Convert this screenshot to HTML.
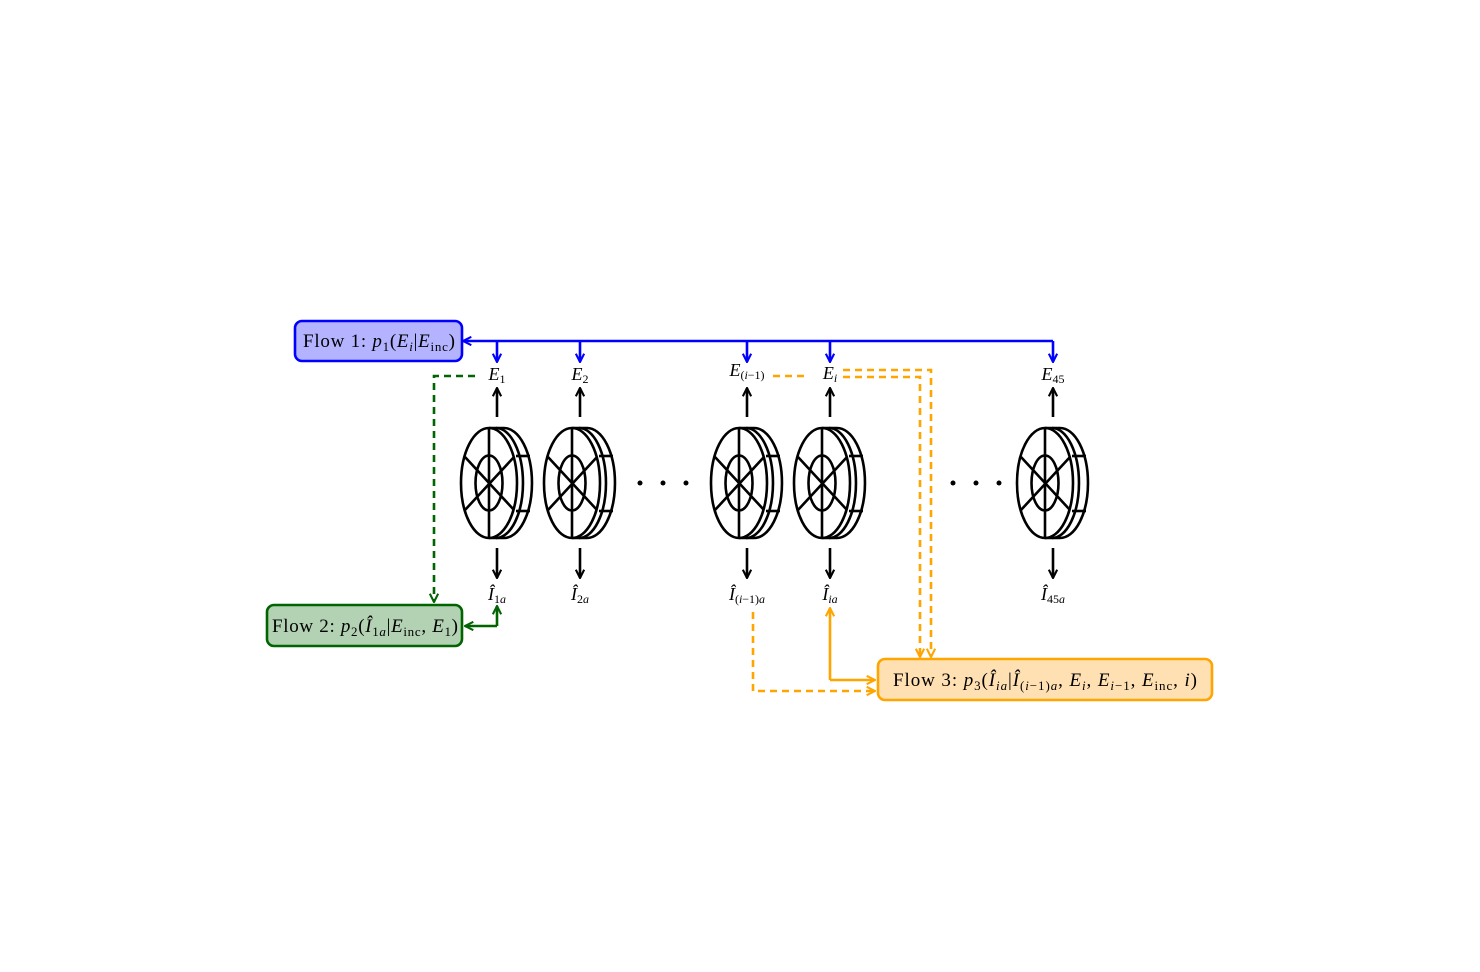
<!DOCTYPE html>
<html><head><meta charset="utf-8"><style>
body{margin:0;background:#fff}
svg text{font-family:"Liberation Serif",serif;}
</style></head><body>
<svg width="1480" height="967" viewBox="0 0 1480 967" xmlns="http://www.w3.org/2000/svg">
<defs>
<marker id="ab" viewBox="0 0 10 10" refX="9" refY="5" markerWidth="4" markerHeight="4" orient="auto"><path d="M1,1 L9,5 L1,9" fill="none" stroke="blue" stroke-width="2"/></marker>
<marker id="ak" viewBox="0 0 10 10" refX="9" refY="5" markerWidth="4" markerHeight="4" orient="auto"><path d="M1,1 L9,5 L1,9" fill="none" stroke="#000" stroke-width="2"/></marker>
<marker id="ag" viewBox="0 0 10 10" refX="9" refY="5" markerWidth="4" markerHeight="4" orient="auto"><path d="M1,1 L9,5 L1,9" fill="none" stroke="#006400" stroke-width="2"/></marker>
<marker id="ao" viewBox="0 0 10 10" refX="9" refY="5" markerWidth="4" markerHeight="4" orient="auto"><path d="M1,1 L9,5 L1,9" fill="none" stroke="orange" stroke-width="2"/></marker>
<g id="w" fill="none" stroke="#000" stroke-width="2.6">
<path d="M489,428 L504,428 A28,55 0 0 1 504,538 L489,538"/>
<path d="M496,428 A27,55 0 0 1 496,538"/>
<ellipse cx="489" cy="483" rx="28" ry="55" fill="#fff"/>
<ellipse cx="489" cy="483" rx="13.5" ry="27.5"/>
<line x1="489" y1="428" x2="489" y2="538"/>
<line x1="465" y1="457" x2="514" y2="510"/>
<line x1="465" y1="510" x2="514" y2="457"/>
<line x1="516" y1="456" x2="530" y2="456"/>
<line x1="516" y1="511" x2="530" y2="511"/>
</g>
</defs>
<use href="#w"/>
<use href="#w" x="83"/>
<use href="#w" x="250"/>
<use href="#w" x="333"/>
<use href="#w" x="556"/>
<g fill="#000"><circle cx="640" cy="483" r="2.5"/><circle cx="663" cy="483" r="2.5"/><circle cx="686" cy="483" r="2.5"/><circle cx="953" cy="483" r="2.5"/><circle cx="976" cy="483" r="2.5"/><circle cx="999" cy="483" r="2.5"/></g>
<g stroke="#000" stroke-width="2.6" marker-end="url(#ak)">
<line x1="497" y1="417" x2="497" y2="388"/><line x1="580" y1="417" x2="580" y2="388"/><line x1="747" y1="417" x2="747" y2="388"/><line x1="830" y1="417" x2="830" y2="388"/><line x1="1053" y1="417" x2="1053" y2="388"/>
<line x1="497" y1="548" x2="497" y2="578"/><line x1="580" y1="548" x2="580" y2="578"/><line x1="747" y1="548" x2="747" y2="578"/><line x1="830" y1="548" x2="830" y2="578"/><line x1="1053" y1="548" x2="1053" y2="578"/>
</g>
<g stroke="blue" stroke-width="2.6" fill="none">
<line x1="1053" y1="341" x2="463" y2="341" marker-end="url(#ab)"/>
<path d="M1053,341 L1053,362" marker-end="url(#ab)"/>
<path d="M497,341 L497,362" marker-end="url(#ab)"/>
<path d="M580,341 L580,362" marker-end="url(#ab)"/>
<path d="M747,341 L747,362" marker-end="url(#ab)"/>
<path d="M830,341 L830,362" marker-end="url(#ab)"/>
</g>
<rect x="295" y="321" width="167" height="40" rx="7" fill="#b3b3ff" stroke="blue" stroke-width="2.6"/>
<text x="303" y="347" font-size="19" textLength="152" lengthAdjust="spacing">Flow 1: <tspan font-style="italic">p</tspan><tspan font-size="13" dy="4">1</tspan><tspan dy="-4">(</tspan><tspan font-style="italic">E</tspan><tspan font-size="13" font-style="italic" dy="4">i</tspan><tspan dy="-4">|</tspan><tspan font-style="italic">E</tspan><tspan font-size="13" dy="4">inc</tspan><tspan dy="-4">)</tspan></text>
<path d="M475,376 L434,376 L434,602" stroke="#006400" stroke-width="2.6" fill="none" stroke-dasharray="7,5" marker-end="url(#ag)"/>
<path d="M497,626 L497,606" stroke="#006400" stroke-width="2.6" fill="none" marker-end="url(#ag)"/>
<path d="M497,626 L465,626" stroke="#006400" stroke-width="2.6" fill="none" marker-end="url(#ag)"/>
<rect x="267" y="605" width="195" height="41" rx="7" fill="#b3d1b3" stroke="#006400" stroke-width="2.6"/>
<text x="272" y="632" font-size="19" textLength="186" lengthAdjust="spacing">Flow 2: <tspan font-style="italic">p</tspan><tspan font-size="13" dy="4">2</tspan><tspan dy="-4">(</tspan><tspan font-style="italic">Î</tspan><tspan font-size="13" dy="4">1<tspan font-style="italic">a</tspan></tspan><tspan dy="-4">|</tspan><tspan font-style="italic">E</tspan><tspan font-size="13" dy="4">inc</tspan><tspan dy="-4">, </tspan><tspan font-style="italic">E</tspan><tspan font-size="13" dy="4">1</tspan><tspan dy="-4">)</tspan></text>
<g stroke="orange" stroke-width="2.6" fill="none">
<path d="M773,376 L808,376" stroke-dasharray="7,5"/>
<path d="M843,370 L931,370 L931,657" stroke-dasharray="7,5" marker-end="url(#ao)"/>
<path d="M843,377 L920,377 L920,657" stroke-dasharray="7,5" marker-end="url(#ao)"/>
<path d="M753,612 L753,691 L875,691" stroke-dasharray="7,5" marker-end="url(#ao)"/>
<path d="M830,680 L830,608" marker-end="url(#ao)"/>
<path d="M830,680 L875,680" marker-end="url(#ao)"/>
</g>
<rect x="878" y="659" width="334" height="41" rx="7" fill="#ffe0b3" stroke="orange" stroke-width="2.6"/>
<text x="893" y="686" font-size="19" textLength="304" lengthAdjust="spacing">Flow 3: <tspan font-style="italic">p</tspan><tspan font-size="13" dy="4">3</tspan><tspan dy="-4">(</tspan><tspan font-style="italic">Î</tspan><tspan font-size="13" font-style="italic" dy="4">ia</tspan><tspan dy="-4">|</tspan><tspan font-style="italic">Î</tspan><tspan font-size="13" dy="4">(<tspan font-style="italic">i</tspan>−1)<tspan font-style="italic">a</tspan></tspan><tspan dy="-4">, </tspan><tspan font-style="italic">E</tspan><tspan font-size="13" font-style="italic" dy="4">i</tspan><tspan dy="-4">, </tspan><tspan font-style="italic">E</tspan><tspan font-size="13" dy="4"><tspan font-style="italic">i</tspan>−1</tspan><tspan dy="-4">, </tspan><tspan font-style="italic">E</tspan><tspan font-size="13" dy="4">inc</tspan><tspan dy="-4">, </tspan><tspan font-style="italic">i</tspan>)</text>
<g font-size="18" text-anchor="middle">
<text x="497" y="380"><tspan font-style="italic">E</tspan><tspan font-size="12" dy="3">1</tspan></text>
<text x="580" y="380"><tspan font-style="italic">E</tspan><tspan font-size="12" dy="3">2</tspan></text>
<text x="747" y="376"><tspan font-style="italic">E</tspan><tspan font-size="12" dy="3">(<tspan font-style="italic">i</tspan>−1)</tspan></text>
<text x="830" y="379"><tspan font-style="italic">E</tspan><tspan font-size="12" font-style="italic" dy="3">i</tspan></text>
<text x="1053" y="380"><tspan font-style="italic">E</tspan><tspan font-size="12" dy="3">45</tspan></text>
<text x="497" y="600"><tspan font-style="italic">Î</tspan><tspan font-size="12" dy="3">1<tspan font-style="italic">a</tspan></tspan></text>
<text x="580" y="600"><tspan font-style="italic">Î</tspan><tspan font-size="12" dy="3">2<tspan font-style="italic">a</tspan></tspan></text>
<text x="747" y="600"><tspan font-style="italic">Î</tspan><tspan font-size="12" dy="3">(<tspan font-style="italic">i</tspan>−1)<tspan font-style="italic">a</tspan></tspan></text>
<text x="830" y="600"><tspan font-style="italic">Î</tspan><tspan font-size="12" font-style="italic" dy="3">ia</tspan></text>
<text x="1053" y="600"><tspan font-style="italic">Î</tspan><tspan font-size="12" dy="3">45<tspan font-style="italic">a</tspan></tspan></text>
</g>
</svg>
</body></html>
